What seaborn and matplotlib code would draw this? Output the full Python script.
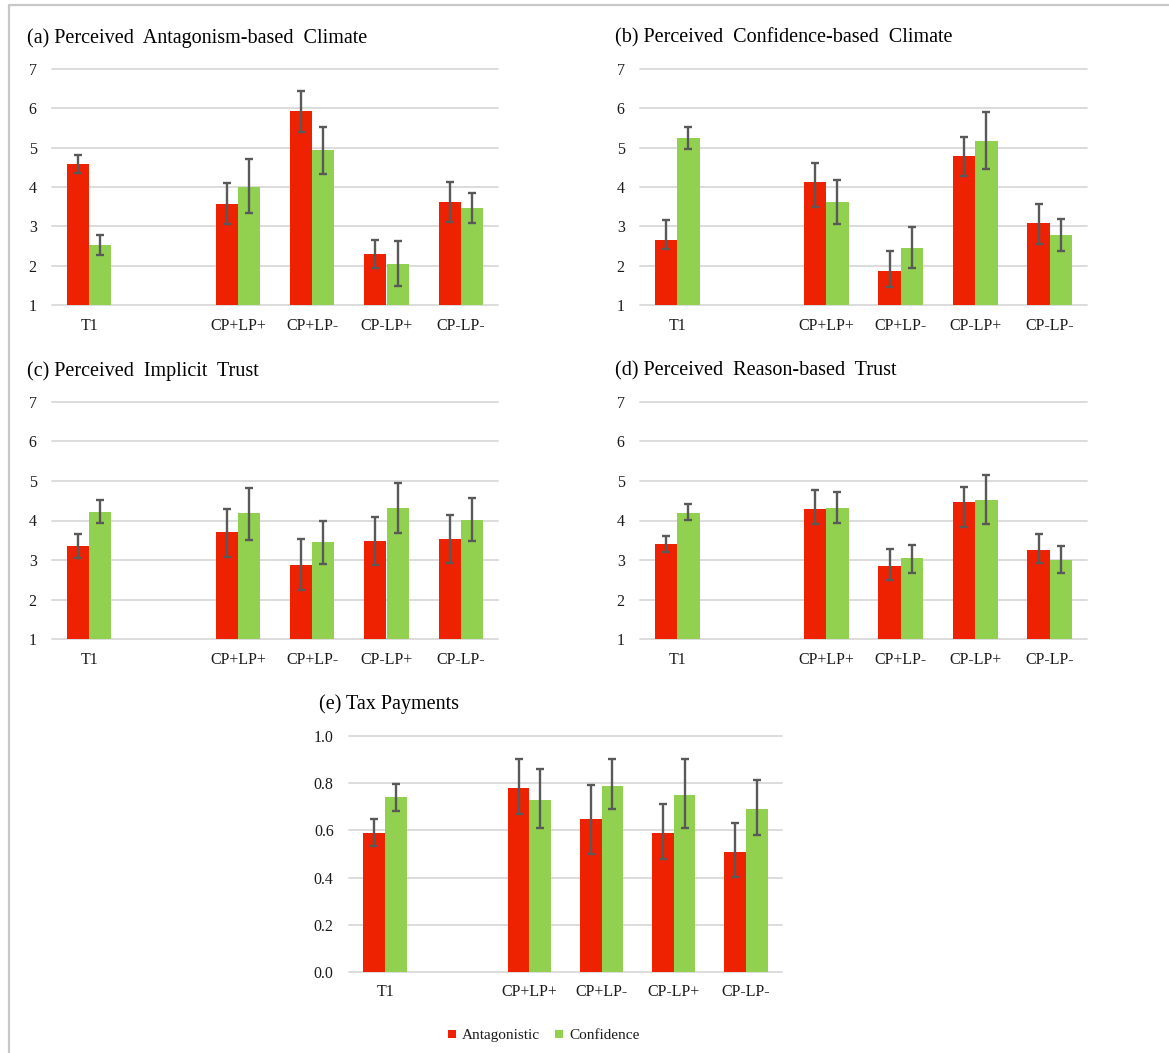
import matplotlib
matplotlib.use("Agg")
import matplotlib.pyplot as plt
from matplotlib.lines import Line2D
import numpy as np
import pandas as pd
import seaborn as sns

# ---- data -------------------------------------------------------------
groups = ["T1", "CP+LP+", "CP+LP-", "CP-LP+", "CP-LP-"]
slots = ["T1", " ", "CP+LP+", "CP+LP-", "CP-LP+", "CP-LP-"]
conditions = ["Antagonistic", "Confidence"]

# (a) Perceived Antagonism-based Climate
a_antag = [4.58, 3.56, 5.92, 2.30, 3.61]
a_antag_lo = [4.35, 3.05, 5.41, 1.95, 3.10]
a_antag_hi = [4.82, 4.09, 6.43, 2.66, 4.13]
a_conf = [2.52, 4.01, 4.93, 2.04, 3.47]
a_conf_lo = [2.26, 3.35, 4.34, 1.48, 3.08]
a_conf_hi = [2.77, 4.71, 5.53, 2.63, 3.86]

# (b) Perceived Confidence-based Climate
b_antag = [2.66, 4.13, 1.87, 4.79, 3.08]
b_antag_lo = [2.43, 3.50, 1.45, 4.29, 2.55]
b_antag_hi = [3.15, 4.62, 2.38, 5.28, 3.57]
b_conf = [5.24, 3.61, 2.44, 5.18, 2.77]
b_conf_lo = [4.97, 3.07, 1.93, 4.46, 2.38]
b_conf_hi = [5.52, 4.18, 2.98, 5.91, 3.19]

# (c) Perceived Implicit Trust
c_antag = [3.36, 3.70, 2.88, 3.48, 3.53]
c_antag_lo = [3.05, 3.08, 2.24, 2.88, 2.92]
c_antag_hi = [3.67, 4.28, 3.53, 4.08, 4.13]
c_conf = [4.22, 4.18, 3.46, 4.32, 4.01]
c_conf_lo = [3.93, 3.51, 2.90, 3.69, 3.49]
c_conf_hi = [4.51, 4.83, 4.00, 4.96, 4.56]

# (d) Perceived Reason-based Trust
d_antag = [3.41, 4.30, 2.86, 4.46, 3.26]
d_antag_lo = [3.21, 3.92, 2.50, 3.83, 2.92]
d_antag_hi = [3.60, 4.77, 3.29, 4.84, 3.66]
d_conf = [4.20, 4.31, 3.04, 4.53, 3.00]
d_conf_lo = [4.01, 3.94, 2.68, 3.92, 2.68]
d_conf_hi = [4.41, 4.71, 3.39, 5.16, 3.36]

# (e) Tax Payments
e_antag = [0.59, 0.78, 0.65, 0.59, 0.51]
e_antag_lo = [0.534, 0.669, 0.50, 0.48, 0.403]
e_antag_hi = [0.648, 0.901, 0.792, 0.71, 0.631]
e_conf = [0.74, 0.73, 0.79, 0.75, 0.69]
e_conf_lo = [0.683, 0.61, 0.69, 0.61, 0.58]
e_conf_hi = [0.797, 0.862, 0.901, 0.901, 0.813]

titles = [
    "(a) Perceived  Antagonism-based  Climate",
    "(b) Perceived  Confidence-based  Climate",
    "(c) Perceived  Implicit  Trust",
    "(d) Perceived  Reason-based  Trust",
    "(e) Tax Payments",
]

RED = "#EE2200"
GREEN = "#92D050"
ERR = "#595959"
GRID = "#D9D9D9"
TXT = "#1a1a1a"

# ---- style ------------------------------------------------------------
sns.set_theme(style="white")
plt.rcParams["font.family"] = ["Liberation Serif", "DejaVu Serif"]

W, H = 1169, 1053
fig = plt.figure(figsize=(W / 100, H / 100), dpi=100)


def px_axes(x0, x1, y_top, y_bot):
    return fig.add_axes([x0 / W, 1 - y_bot / H, (x1 - x0) / W, (y_bot - y_top) / H])


def draw_panel(ax, antag, antag_lo, antag_hi, conf, conf_lo, conf_hi,
               ylim, yticks, fmt):
    df = pd.DataFrame({
        "group": groups * 2,
        "condition": [conditions[0]] * len(groups) + [conditions[1]] * len(groups),
        "value": antag + conf,
    })
    bounds = {}
    for g, v, lo, hi in zip(groups, antag, antag_lo, antag_hi):
        bounds[(g, 0)] = (v, lo, hi)
    for g, v, lo, hi in zip(groups, conf, conf_lo, conf_hi):
        bounds[(g, 1)] = (v, lo, hi)

    sns.barplot(data=df, x="group", y="value", hue="condition",
                order=slots, hue_order=conditions, palette=[RED, GREEN],
                width=0.6, gap=0, errorbar=None, legend=False,
                saturation=1, linewidth=0, ax=ax)

    for patch in list(ax.patches):
        h = patch.get_height()
        if not np.isfinite(h) or h == 0:
            continue
        xc = patch.get_x() + patch.get_width() / 2
        idx = int(round(xc))
        cond = 0 if xc < idx else 1
        v, lo, hi = bounds[(slots[idx], cond)]
        ax.errorbar(xc, v, yerr=[[v - lo], [hi - v]], fmt="none",
                    ecolor=ERR, elinewidth=1.7, capsize=3.2, capthick=1.7,
                    zorder=5)

    ax.set_ylim(*ylim)
    ax.set_yticks(yticks)
    ax.set_yticklabels([fmt.format(t) for t in yticks])
    ax.set_xlim(-0.5, len(slots) - 0.5)
    ax.yaxis.grid(True, color=GRID, linewidth=1.3, clip_on=False)
    ax.xaxis.grid(False)
    ax.set_axisbelow(True)
    for s in ax.spines.values():
        s.set_visible(False)
    ax.tick_params(axis="both", length=0, labelsize=11.5, colors=TXT)
    ax.tick_params(axis="x", pad=9)
    ax.tick_params(axis="y", pad=11)
    ax.set_xlabel("")
    ax.set_ylabel("")
    ax.set_facecolor("none")


likert = (1, 7)
likert_ticks = [1, 2, 3, 4, 5, 6, 7]

ax_a = px_axes(52, 498, 69, 305)
draw_panel(ax_a, a_antag, a_antag_lo, a_antag_hi, a_conf, a_conf_lo, a_conf_hi,
           likert, likert_ticks, "{:d}")
ax_b = px_axes(640, 1087, 69, 305)
draw_panel(ax_b, b_antag, b_antag_lo, b_antag_hi, b_conf, b_conf_lo, b_conf_hi,
           likert, likert_ticks, "{:d}")
ax_c = px_axes(52, 498, 402, 639)
draw_panel(ax_c, c_antag, c_antag_lo, c_antag_hi, c_conf, c_conf_lo, c_conf_hi,
           likert, likert_ticks, "{:d}")
ax_d = px_axes(640, 1087, 402, 639)
draw_panel(ax_d, d_antag, d_antag_lo, d_antag_hi, d_conf, d_conf_lo, d_conf_hi,
           likert, likert_ticks, "{:d}")
ax_e = px_axes(349, 782, 736, 972)
draw_panel(ax_e, e_antag, e_antag_lo, e_antag_hi, e_conf, e_conf_lo, e_conf_hi,
           (0, 1), [0.0, 0.2, 0.4, 0.6, 0.8, 1.0], "{:.1f}")

# panel titles
title_pos = [(27, 38), (615, 38), (27, 371), (615, 371), (319, 704)]
for t, (x, y) in zip(titles, title_pos):
    fig.text(x / W, 1 - y / H, t, fontsize=14.5, color="black",
             ha="left", va="center")

# shared legend
handles = [Line2D([], [], marker="s", linestyle="none", markersize=5.5,
                  markerfacecolor=c, markeredgewidth=0) for c in (RED, GREEN)]
fig.legend(handles, conditions, loc="center", bbox_to_anchor=(544 / W, 1 - 1035 / H),
           ncol=2, frameon=False, fontsize=11, handlelength=0.5,
           handletextpad=0.4, columnspacing=1.0, labelcolor=TXT)

# outer frame (top and left edges)
fig.add_artist(Line2D([9 / W, 1], [1 - 5 / H, 1 - 5 / H], transform=fig.transFigure,
                      color="#C8C8C8", linewidth=1.6))
fig.add_artist(Line2D([9 / W, 9 / W], [0, 1 - 5 / H], transform=fig.transFigure,
                      color="#C8C8C8", linewidth=1.6))

fig.savefig("out.png", dpi=100, facecolor="white")
